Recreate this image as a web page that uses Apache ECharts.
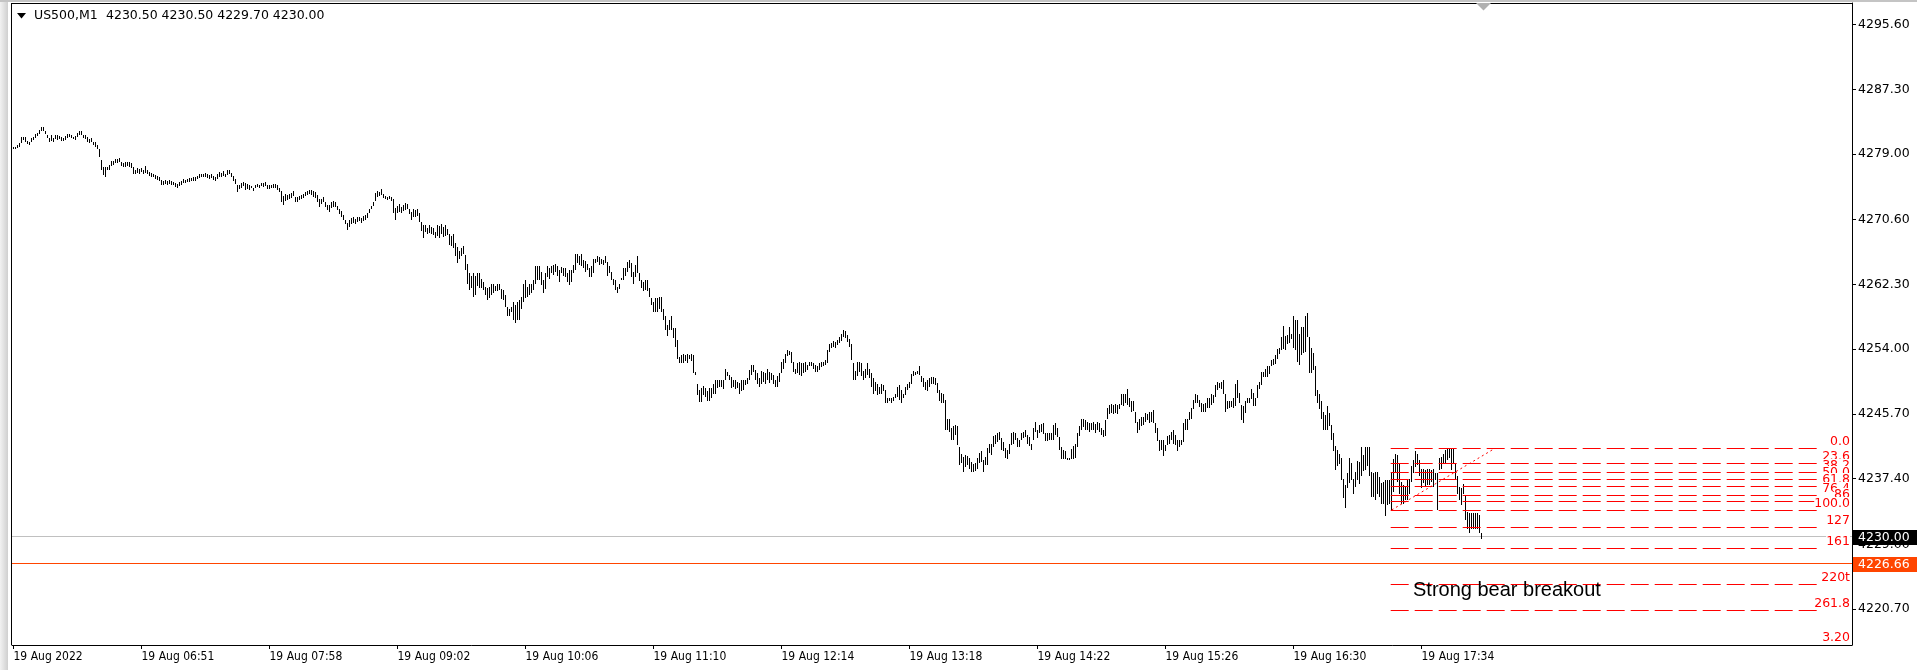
<!DOCTYPE html>
<html><head><meta charset="utf-8">
<script src="https://cdn.jsdelivr.net/npm/echarts@6/dist/echarts.min.js"></script>
<style>html,body{margin:0;padding:0;background:#fff;overflow:hidden}#c{width:1917px;height:670px}</style>
</head><body><div id="c"></div>
<script>
// ---------------- DATA ----------------
const symbolName = 'US500,M1';
const lastBar = [4230.50, 4230.50, 4229.70, 4230.00]; // open, high, low, close

const highs = [
4279.9,4279.9,4280.1,4280.4,4281.2,4281.2,4281.2,4280.7,4280.6,4281.0,
4281.2,4281.6,4281.7,4282.1,4282.5,4282.5,4282.0,4281.5,4281.0,4281.4,
4281.1,4281.4,4281.5,4281.3,4281.2,4281.0,4281.3,4281.6,4281.6,4281.5,
4281.2,4281.3,4281.7,4282.0,4281.9,4281.5,4281.4,4281.2,4280.9,4281.0,
4280.6,4280.5,4280.1,4279.7,4278.3,4277.4,4277.4,4277.4,4277.6,4278.1,
4278.1,4278.4,4278.4,4278.5,4278.0,4277.8,4278.0,4278.0,4278.0,4277.8,
4277.4,4277.0,4277.2,4277.1,4277.2,4277.0,4277.5,4277.0,4276.7,4276.6,
4276.5,4276.3,4276.2,4276.1,4275.7,4275.6,4275.7,4275.6,4275.7,4275.6,
4275.4,4275.3,4275.2,4275.4,4275.5,4275.8,4275.7,4275.8,4275.9,4275.9,
4276.0,4276.1,4276.2,4276.4,4276.5,4276.4,4276.6,4276.5,4276.3,4276.4,
4276.2,4276.0,4276.4,4276.7,4276.6,4276.8,4276.5,4276.9,4277.0,4276.6,
4276.2,4275.8,4275.1,4275.1,4275.3,4275.4,4275.3,4275.2,4275.0,4274.9,
4274.7,
4275.0,4275.2,4275.0,4275.3,4275.3,4275.4,4275.1,4275.0,4275.1,4275.2,
4275.2,4275.1,4274.6,4274.3,4273.6,4273.9,4273.8,4273.9,4274.0,4274.3,
4273.5,4273.5,4273.6,4273.7,4273.9,4274.2,4274.3,4274.4,4274.4,4274.3,
4274.1,4273.8,4273.2,4273.3,4273.5,4272.9,4272.5,4272.5,4272.9,4273.0,
4272.9,4272.4,4272.0,4271.7,4271.2,4270.6,4270.2,4270.5,4270.8,4270.9,
4270.7,4270.9,4271.0,4270.8,4271.1,4271.2,4271.4,4272.0,4272.4,4272.9,
4274.0,4274.3,4274.2,4274.5,4273.9,4273.6,4273.5,4273.6,4273.5,4273.2,
4272.1,4272.4,4272.6,4272.2,4272.5,4272.7,4272.6,4272.0,4271.6,4272.0,
4271.8,4271.9,4271.4,4270.3,4269.9,4269.9,4269.5,4269.9,4269.6,4269.5,
4269.0,4269.9,4269.8,4270.0,4269.6,4269.9,4269.4,4268.8,4268.5,4268.7,
4267.6,4267.1,4266.6,4267.0,4267.2,4266.1,4264.9,4263.8,4263.4,4263.7,
4263.4,4263.8,4263.7,4263.0,4262.6,4262.0,4261.8,4262.0,4262.3,4262.4,
4262.1,4262.3,4262.4,
4261.7,4261.6,4261.0,4259.4,4259.2,4259.4,4260.0,4259.7,4260.1,4260.3,
4260.7,4262.4,4262.8,4262.0,4262.3,4262.4,4262.9,4264.7,4264.7,4264.7,
4263.9,4262.9,4263.8,4264.7,4264.4,4264.6,4264.8,4264.9,4264.7,4264.1,
4264.5,4264.4,4264.4,4263.7,4264.2,4264.2,4264.8,4266.2,4266.2,4265.9,
4266.2,4265.4,4265.3,4264.9,4264.4,4264.7,4265.6,4265.5,4265.9,4265.8,
4265.6,4265.4,4265.9,4265.2,4264.6,4263.9,4263.0,4262.9,4262.0,4262.4,
4263.1,4264.4,4264.4,4265.2,4265.4,4265.0,4263.9,4264.8,4265.9,4263.7,
4262.9,4262.6,4262.9,4262.9,4261.8,4260.5,4260.1,4260.5,4260.5,4260.7,
4260.7,4259.2,4258.2,4257.1,4257.7,4258.2,4256.7,4256.7,4255.2,4253.0,
4253.3,4253.4,4253.3,4253.4,4253.3,4253.4,4253.3,4251.1,4249.6,4248.8,
4249.0,4249.3,4249.0,4248.6,4249.0,4249.0,4249.6,4250.1,4250.1,4250.0,
4250.1,4250.1,4251.5,4251.1,4250.7,4250.4,4250.1,4250.1,4249.8,4249.7,
4250.1,4250.0,
4250.1,4250.3,4251.3,4252.0,4252.0,4251.3,4250.9,4250.3,4251.2,4251.1,
4250.9,4251.4,4251.1,4250.9,4250.7,4250.1,4250.5,4250.9,4252.3,4252.8,
4253.4,4253.9,4253.8,4253.7,4252.3,4251.5,4252.2,4252.3,4252.2,4252.2,
4252.3,4252.0,4252.4,4252.3,4252.2,4252.0,4251.8,4252.2,4252.4,4252.4,
4252.6,4253.9,4254.6,4254.8,4255.0,4254.9,4255.2,4255.6,4256.0,4256.5,
4256.3,4255.8,4255.3,4254.6,4252.2,4251.2,4252.4,4252.4,4252.2,4251.2,
4251.5,4252.2,4251.5,4250.9,4250.3,4249.8,4249.6,4249.2,4249.6,4249.4,
4248.8,4247.7,4247.8,4247.8,4247.9,4248.3,4249.2,4249.4,4248.8,4248.3,
4249.1,4249.6,4249.8,4250.8,4251.2,4251.1,4251.2,4251.8,4250.6,4250.3,
4249.8,4250.1,4250.3,4250.4,4250.4,4250.3,4249.7,4248.8,4248.4,4248.3,
4247.5,4245.1,4245.1,4243.9,4244.1,4244.3,4244.2,4241.5,4240.6,4240.2,
4240.4,4240.3,4240.1,4239.6,4239.3,4239.4,4240.0,4240.7,4240.9,4239.8,
4240.2,4241.3,4241.9,
4241.9,4242.9,4243.0,4243.3,4243.4,4242.6,4242.1,4241.3,4241.1,4241.9,
4243.3,4243.4,4243.2,4242.6,4242.4,4243.3,4243.4,4243.6,4243.0,4242.8,
4241.9,4243.9,4244.7,4243.6,4244.3,4244.4,4244.5,4243.3,4243.2,4243.3,
4243.2,4244.3,4244.5,4243.9,4242.8,4241.5,4241.1,4241.0,4240.1,4240.1,
4241.2,4241.6,4241.8,4243.3,4244.2,4245.1,4245.0,4244.9,4244.7,4244.6,
4244.5,4244.7,4244.4,4244.7,4244.6,4243.9,4243.6,4244.9,4246.4,4246.8,
4247.0,4246.8,4247.0,4246.8,4247.0,4248.3,4248.3,4248.3,4248.9,4247.7,
4247.4,4247.3,4246.0,4244.7,4245.1,4245.3,4245.3,4245.8,4245.7,4246.0,
4245.9,4246.2,4244.5,4243.9,4242.4,4242.3,4242.4,4241.7,4242.9,4243.0,
4243.4,4243.6,4243.0,4242.4,4242.4,4242.4,4244.5,4245.1,4245.1,4246.0,
4246.5,4247.5,4248.3,4248.1,4247.5,4247.1,4247.0,4247.1,4247.8,4247.7,
4248.3,4248.1,4249.4,4249.8,4249.7,4249.8,4250.1,4248.3,4247.3,4247.3,
4247.4,4247.7,
4249.6,4250.0,4248.4,4246.8,4246.7,4247.3,4247.8,4247.7,4248.9,4248.4,
4247.8,4249.4,4249.8,4251.1,4251.1,4251.5,4251.8,4251.8,4252.6,4252.8,
4253.3,4254.0,4254.1,4255.5,4257.0,4255.7,4255.8,4256.8,4256.0,4258.2,
4257.7,4257.7,4256.0,4256.9,4256.9,4258.2,4258.6,4255.5,4254.1,4253.5,
4251.8,4248.8,4248.3,4247.4,4245.9,4245.6,4246.7,4245.8,4244.3,4243.3,
4241.6,4241.1,4240.6,4240.0,4237.3,4236.6,4238.1,4240.0,4239.4,4237.3,
4238.3,4239.7,4239.6,4241.5,4240.4,4241.5,4241.5,4241.5,4238.3,4238.1,
4238.2,4238.2,4237.6,4236.8,4237.0,4237.2,4237.2,4237.2,4238.3,4239.9,
4240.6,4240.4,4239.4,4237.0,4236.6,4236.4,4237.4,4237.4,4239.0,4239.8,
4240.9,4240.6,4239.8,4238.6,4238.6,4238.5,4238.6,4238.6,4238.5,4238.6,
4238.1,4238.1,4240.1,4240.2,4240.6,4241.1,4241.3,4241.2,4241.2,4241.3,
4239.4,4237.7,4236.4,4236.2,4236.7,4235.2,4233.1,4233.0,4233.0,4233.0,
4233.0,4233.0,4232.7,4230.5
];

const lows = [
4279.7,4279.7,4279.8,4279.9,4280.4,4280.8,4280.6,4280.3,4280.2,4280.5,
4280.8,4281.1,4281.3,4281.6,4281.9,4281.9,4281.6,4281.0,4280.5,4280.7,
4280.6,4280.9,4280.8,4280.9,4280.7,4280.7,4280.8,4281.0,4281.2,4281.1,
4280.9,4280.8,4281.2,4281.5,4281.4,4281.1,4280.9,4280.5,4280.4,4280.5,
4280.1,4279.9,4279.6,4278.6,4276.9,4276.3,4276.1,4276.9,4277.0,4277.5,
4277.6,4277.8,4277.9,4278.0,4277.5,4277.3,4277.4,4277.5,4277.3,4277.2,
4276.5,4276.4,4276.6,4276.5,4276.7,4276.5,4276.6,4276.5,4276.2,4276.1,
4276.0,4275.8,4275.7,4275.6,4275.0,4275.1,4275.2,4275.0,4275.2,4275.1,
4275.0,4274.8,4274.7,4274.9,4275.1,4275.3,4275.3,4275.4,4275.4,4275.5,
4275.6,4275.6,4275.8,4275.9,4276.0,4276.0,4276.1,4275.9,4275.8,4275.9,
4275.7,4275.6,4275.8,4276.1,4276.0,4276.2,4276.0,4276.3,4276.4,4276.0,
4275.6,4275.2,4274.2,4274.5,4274.7,4274.9,4274.4,4274.5,4274.4,4274.6,
4274.3,
4274.6,4274.8,4274.7,4274.9,4274.8,4274.9,4274.5,4274.5,4274.6,4274.6,
4274.7,4274.4,4274.2,4272.8,4272.5,4273.0,4273.1,4273.3,4273.4,4273.6,
4272.8,4272.9,4273.1,4273.2,4273.4,4273.6,4273.8,4273.9,4273.7,4273.5,
4273.4,4272.9,4272.2,4272.6,4272.8,4272.2,4271.8,4271.6,4272.1,4272.2,
4272.2,4271.8,4271.3,4271.0,4270.6,4270.0,4269.3,4269.7,4270.0,4270.2,
4270.0,4270.3,4270.4,4270.2,4270.4,4270.6,4270.8,4271.4,4271.9,4272.3,
4273.0,4273.5,4273.6,4273.7,4273.4,4273.2,4273.1,4273.2,4273.0,4271.4,
4270.6,4271.4,4271.6,4271.5,4271.7,4271.8,4271.9,4271.3,4270.6,4270.9,
4271.0,4271.1,4270.3,4269.1,4268.3,4269.0,4268.7,4268.9,4268.8,4268.6,
4268.2,4268.5,4268.3,4268.7,4268.4,4268.5,4268.6,4267.4,4267.2,4267.0,
4266.0,4265.1,4265.5,4266.0,4266.2,4264.2,4262.3,4261.6,4261.9,4260.7,
4261.0,4262.1,4261.8,4261.9,4261.6,4260.9,4260.3,4260.6,4261.0,4261.2,
4261.5,4261.4,4261.6,
4260.4,4260.3,4259.4,4258.2,4258.3,4258.8,4257.7,4257.3,4257.7,4257.7,
4259.2,4260.1,4260.5,4260.7,4260.9,4261.2,4261.6,4262.4,4262.9,4262.8,
4262.2,4261.2,4261.7,4263.3,4263.0,4263.7,4263.5,4263.9,4263.4,4262.6,
4263.7,4263.4,4263.2,4262.6,4262.2,4262.6,4263.7,4264.2,4265.0,4264.8,
4264.6,4264.4,4263.9,4264.1,4263.2,4263.3,4263.7,4265.0,4265.2,4264.8,
4264.9,4264.8,4265.0,4263.4,4263.7,4262.8,4262.2,4261.6,4261.2,4261.7,
4262.8,4262.9,4263.4,4263.9,4264.4,4263.2,4262.4,4263.3,4263.7,4262.7,
4261.8,4261.4,4261.6,4261.4,4260.7,4259.7,4258.8,4258.8,4258.8,4259.2,
4258.8,4257.7,4256.5,4255.7,4256.5,4256.5,4255.4,4254.3,4252.8,4252.2,
4252.2,4252.2,4252.5,4252.2,4252.7,4252.5,4250.9,4250.7,4248.1,4247.2,
4247.2,4248.1,4247.9,4247.3,4247.3,4247.8,4248.3,4248.3,4249.0,4249.1,
4249.2,4248.9,4250.1,4250.5,4250.1,4249.0,4249.2,4248.9,4249.0,4248.3,
4248.6,4248.8,
4249.4,4249.6,4250.1,4250.7,4251.1,4250.1,4249.6,4249.1,4249.6,4249.8,
4249.6,4250.1,4249.7,4250.0,4249.6,4249.1,4249.2,4249.8,4250.9,4251.5,
4252.2,4253.1,4253.2,4252.2,4251.1,4250.8,4250.9,4250.7,4250.6,4250.9,
4251.1,4251.3,4251.8,4251.8,4251.5,4251.1,4251.1,4251.3,4251.7,4251.8,
4252.0,4252.2,4253.7,4254.1,4254.3,4254.2,4254.5,4254.8,4255.1,4255.6,
4255.4,4254.9,4254.3,4252.6,4250.1,4250.1,4250.5,4251.1,4250.5,4250.1,
4250.3,4250.7,4250.3,4249.2,4248.3,4248.6,4248.1,4248.3,4248.2,4248.6,
4247.1,4247.1,4247.3,4247.1,4247.3,4247.7,4247.9,4247.5,4247.1,4247.7,
4248.1,4248.8,4249.0,4249.6,4250.5,4250.7,4250.8,4250.7,4249.8,4249.2,
4248.8,4248.7,4249.2,4249.6,4249.6,4249.4,4248.4,4247.3,4247.1,4247.1,
4243.6,4243.6,4243.4,4242.3,4242.4,4243.0,4241.7,4239.2,4239.4,4238.3,
4238.9,4239.2,4238.7,4238.3,4238.2,4238.4,4238.7,4239.4,4239.6,4238.3,
4239.2,4239.2,4240.7,
4240.4,4241.5,4241.8,4242.1,4242.4,4241.1,4240.9,4240.1,4239.9,4240.6,
4241.7,4241.9,4242.4,4241.5,4241.4,4242.4,4242.6,4242.8,4241.8,4241.6,
4241.1,4242.4,4243.4,4242.6,4243.2,4243.4,4243.1,4242.2,4242.2,4242.3,
4242.4,4242.4,4243.0,4242.8,4241.1,4239.9,4239.9,4239.9,4239.8,4239.8,
4239.9,4239.9,4240.1,4241.5,4242.9,4243.7,4244.0,4243.7,4243.7,4243.4,
4243.7,4243.6,4243.2,4243.7,4243.4,4243.0,4242.8,4242.9,4245.0,4245.7,
4245.8,4245.7,4245.8,4245.7,4246.3,4246.8,4246.7,4247.1,4246.8,4246.6,
4246.0,4246.1,4244.5,4243.3,4243.7,4244.1,4244.3,4244.7,4244.9,4244.5,
4244.7,4244.5,4243.2,4242.2,4240.9,4241.1,4240.3,4240.9,4241.7,4241.8,
4242.3,4241.9,4241.7,4240.9,4241.5,4241.7,4242.1,4243.6,4243.6,4244.9,
4245.1,4246.3,4247.1,4247.1,4246.6,4245.9,4246.0,4245.9,4246.4,4246.5,
4246.8,4247.1,4247.9,4248.8,4249.0,4248.9,4248.3,4246.0,4246.3,4246.5,
4246.6,4246.4,
4246.7,4247.7,4247.1,4244.9,4244.6,4245.8,4247.1,4247.1,4247.6,4246.7,
4246.7,4247.7,4248.9,4249.4,4250.4,4250.4,4250.4,4250.8,4251.8,4252.0,
4252.1,4252.7,4253.4,4253.9,4254.0,4253.9,4254.7,4254.8,4255.3,4254.1,
4253.9,4252.4,4252.0,4253.3,4253.5,4253.7,4255.5,4251.0,4251.0,4251.3,
4248.0,4247.1,4246.3,4245.0,4243.6,4243.6,4243.7,4244.2,4242.4,4240.9,
4238.5,4239.0,4239.3,4237.2,4234.9,4233.7,4236.2,4236.9,4237.2,4235.5,
4236.4,4237.2,4236.7,4237.7,4238.4,4238.5,4239.0,4237.7,4235.1,4235.1,
4234.7,4235.4,4235.1,4234.2,4234.2,4232.6,4234.0,4234.2,4233.4,4235.7,
4238.3,4237.0,4235.5,4234.2,4234.2,4234.7,4234.7,4235.5,4237.0,4238.1,
4238.9,4239.2,4237.7,4236.2,4236.8,4236.4,4236.6,4236.6,4237.0,4236.4,
4237.2,4233.4,4238.5,4238.7,4239.4,4239.4,4239.8,4240.0,4238.5,4239.4,
4237.2,4235.5,4234.7,4234.0,4235.5,4232.1,4231.0,4230.4,4231.0,4230.9,
4231.0,4230.9,4230.4,4229.7
];

const timeTickIndex = [0, 64, 128, 192, 256, 320, 384, 448, 512, 576, 640, 704];
const timeTickLabels = ['19 Aug 2022', '19 Aug 06:51', '19 Aug 07:58', '19 Aug 09:02', '19 Aug 10:06',
  '19 Aug 11:10', '19 Aug 12:14', '19 Aug 13:18', '19 Aug 14:22', '19 Aug 15:26', '19 Aug 16:30', '19 Aug 17:34'];
const priceTicks = [4220.7, 4229.0, 4237.4, 4245.7, 4254.0, 4262.3, 4270.6, 4279.0, 4287.3, 4295.6];

const priceLineValues = [4230.00, 4226.66];
const fibHigh = 4241.3;
const fibLow = 4233.4;
const fibLevels = [0, 23.6, 38.2, 50, 61.8, 76.4, 86, 100, 127, 161.8, 220, 261.8];
const fibLabels = ['0.0', '23.6', '38.2', '50.0', '61.8', '76.4', '86', '100.0', '127', '161', '220t', '261.8'];
const fibExtraLabel = '3.20';
const annotationText = 'Strong bear breakout';

// ---------------- CHART ----------------
const chart = echarts.init(document.getElementById('c'), null, {renderer: 'canvas'});
const barData = highs.map((h, i) => [i, lows[i], h]);
const AXFONT = 'DejaVu Sans';
const RED = '#ff0000';

// fib anchors (bar index space)
const FIB_X0 = 688.6, FIB_X1 = 901.75, FIB_DIAG_X1 = 740.75;

const option = {
  animation: false,
  backgroundColor: '#ffffff',
  grid: {left: 12, top: 3, right: 65, bottom: 25, show: false},
  xAxis: {
    type: 'value', min: -0.75, max: 919.25, position: 'bottom',
    axisLine: {show: true, onZero: false, lineStyle: {color: '#000', width: 1}},
    axisTick: {show: true, length: 4, customValues: timeTickIndex, lineStyle: {color: '#000'}},
    axisLabel: {
      show: true, customValues: timeTickIndex,
      formatter: v => { const k = timeTickIndex.indexOf(Math.round(v)); return k >= 0 ? timeTickLabels[k] : ''; },
      align: 'left', margin: 6, color: '#000',
      fontFamily: '"DejaVu Sans Condensed", "Liberation Sans Narrow", "Liberation Sans"', fontSize: 12
    },
    splitLine: {show: false}
  },
  yAxis: {
    type: 'value', position: 'right', min: 4216.09, max: 4298.36, scale: true,
    axisLine: {show: true, onZero: false, lineStyle: {color: '#000', width: 1}},
    axisTick: {show: true, length: 4, customValues: priceTicks, lineStyle: {color: '#000'}},
    axisLabel: {
      show: true, customValues: priceTicks, formatter: v => Number(v).toFixed(2),
      margin: 6, color: '#000', fontFamily: AXFONT, fontSize: 12.5, align: 'left', padding: [2, 0, 0, 0]
    },
    splitLine: {show: false}
  },
  series: [
    { // price lines with axis boxes
      type: 'custom', z: 2, clip: false,
      data: priceLineValues.map((p, k) => [p, k]),
      renderItem: (params, api) => {
        const p = api.value(0), k = api.value(1);
        const cs = params.coordSys;
        const y = Math.round(api.coord([0, p])[1]) + 0.5;
        const lineCol = k === 0 ? '#c0c0c0' : '#ff4500';
        const boxCol = k === 0 ? '#000000' : '#ff4500';
        return {type: 'group', children: [
          {type: 'line', shape: {x1: cs.x, y1: y, x2: cs.x + cs.width, y2: y}, style: {stroke: lineCol, lineWidth: 1}},
          {type: 'rect', shape: {x: cs.x + cs.width + 1, y: Math.round(y) - 7, width: 70, height: 15}, style: {fill: boxCol}},
          {type: 'text', x: cs.x + cs.width + 6, y: y + 1, style: {text: p.toFixed(2), fill: '#fff',
            font: '12.5px "DejaVu Sans"', align: 'left', verticalAlign: 'middle', textAlign: 'left', textVerticalAlign: 'middle'}}
        ]};
      }
    },
    { // HL bars
      type: 'custom', z: 3, clip: true,
      data: barData, encode: {x: 0, y: [1, 2]},
      renderItem: (params, api) => {
        const top = api.coord([api.value(0), api.value(2)]);
        const bot = api.coord([api.value(0), api.value(1)]);
        const px = Math.round(top[0] - 0.5) + 0.5;
        let y1 = Math.round(top[1]), y2 = Math.round(bot[1]);
        if (y2 - y1 < 2) y2 = y1 + 2;
        return {type: 'line', shape: {x1: px, y1: y1, x2: px, y2: y2}, style: {stroke: '#000', lineWidth: 1}};
      }
    },
    { // fibonacci levels
      type: 'custom', z: 4, clip: false,
      data: fibLevels.map((l, k) => [l, k]),
      renderItem: (params, api) => {
        const lvl = api.value(0), k = api.value(1);
        const price = fibHigh - lvl / 100 * (fibHigh - fibLow);
        const a = api.coord([FIB_X0, price]), b = api.coord([FIB_X1, price]);
        const cs = params.coordSys;
        const y = Math.round(a[1]) + 0.5;
        return {type: 'group', children: [
          {type: 'line', shape: {x1: a[0], y1: y, x2: b[0], y2: y}, style: {stroke: RED, lineWidth: 1, lineDash: [18, 6]}},
          {type: 'text', x: cs.x + cs.width - 2, y: y - 7, style: {text: fibLabels[k], fill: RED,
            font: '12.5px "DejaVu Sans"', align: 'right', verticalAlign: 'middle', textAlign: 'right', textVerticalAlign: 'middle',
            backgroundColor: '#fff'}}
        ]};
      }
    },
    { // fib base trend line (dotted)
      type: 'custom', z: 4, clip: false,
      data: [[FIB_X0 + 0.5, fibLow, FIB_DIAG_X1, fibHigh]],
      renderItem: (params, api) => {
        const a = api.coord([api.value(0), api.value(1)]);
        const b = api.coord([api.value(2), api.value(3)]);
        return {type: 'line', shape: {x1: a[0], y1: a[1], x2: b[0], y2: b[1]}, style: {stroke: RED, lineWidth: 1, lineDash: [2, 3]}};
      }
    }
  ],
  graphic: [
    {type: 'rect', left: 0, top: 0, z: 10, shape: {x: 0, y: 0, width: 8, height: 670},
      style: {fill: new echarts.graphic.LinearGradient(0, 0, 1, 0, [{offset: 0, color: '#f2f2f2'}, {offset: 1, color: '#cfcfcf'}])}},
    {type: 'rect', z: 10, shape: {x: 0, y: 0, width: 1917, height: 2}, style: {fill: '#c4c4c4'}},
    {type: 'rect', z: 10, shape: {x: 11, y: 3, width: 1, height: 642}, style: {fill: '#000'}},
    {type: 'rect', z: 10, shape: {x: 11, y: 3, width: 1841, height: 1}, style: {fill: '#000'}},
    {type: 'polygon', z: 10, shape: {points: [[17, 13], [26, 13], [21.5, 18.5]]}, style: {fill: '#000'}},
    {type: 'text', z: 10, x: 34, y: 16, style: {text: symbolName, fill: '#000', font: '12.5px "DejaVu Sans"', verticalAlign: 'middle', textVerticalAlign: 'middle'}},
    ...lastBar.map((v, k) => ({type: 'text', z: 10, x: 106 + 55.6 * k, y: 16,
      style: {text: v.toFixed(2), fill: '#000', font: '12.5px "DejaVu Sans"', verticalAlign: 'middle', textVerticalAlign: 'middle'}})),
    {type: 'polygon', z: 10, shape: {points: [[1476, 3], [1491, 3], [1483.5, 10.5]]}, style: {fill: '#b0b0b0'}},
    {type: 'text', z: 10, x: 1413, y: 590, style: {text: annotationText, fill: '#000', font: '20px "Liberation Sans"', verticalAlign: 'middle', textVerticalAlign: 'middle'}},
    {type: 'text', z: 10, x: 1850, y: 638, style: {text: fibExtraLabel, fill: RED, font: '12.5px "DejaVu Sans"', align: 'right', textAlign: 'right', verticalAlign: 'middle', textVerticalAlign: 'middle'}}
  ]
};
chart.setOption(option);
</script>
</body></html>
